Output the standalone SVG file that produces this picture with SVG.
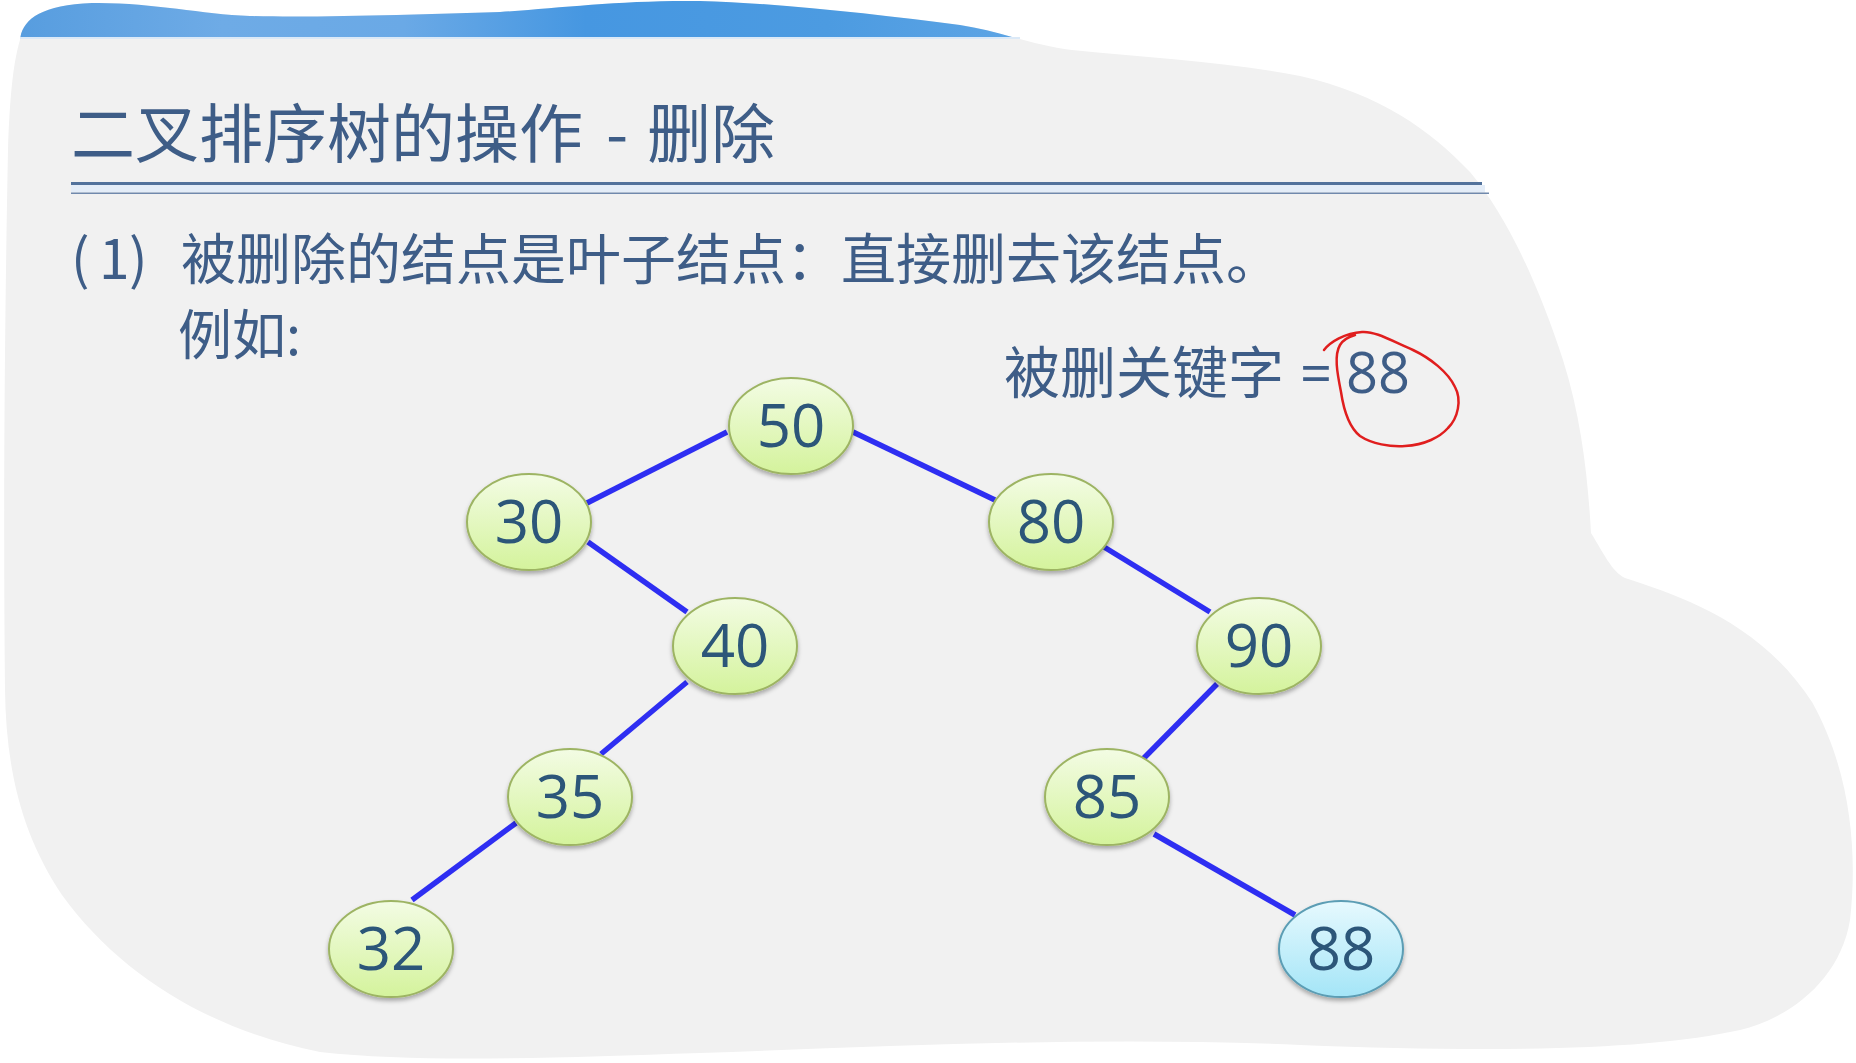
<svg xmlns="http://www.w3.org/2000/svg" width="1856" height="1063" viewBox="0 0 1856 1063">
<style>
.cjk{font-family:"Noto Sans CJK SC","Noto Sans",sans-serif;fill:#3e5d87}
.num{font-family:"Open Sans","Noto Sans",sans-serif;font-size:60px;fill:#2c5679;text-anchor:middle}
.edge{stroke:#2e2ef2;stroke-width:5.5;stroke-linecap:butt;fill:none}
.green{fill:url(#gGreen);stroke:#9db463;stroke-width:2;filter:url(#sh)}
.blue{fill:url(#gBlue);stroke:#5b9db4;stroke-width:2;filter:url(#sh)}
</style>
<defs>
<linearGradient id="gGreen" x1="0" y1="0" x2="0" y2="1">
<stop offset="0" stop-color="#f3fce4"/>
<stop offset="1" stop-color="#d4f39c"/>
</linearGradient>
<linearGradient id="gBlue" x1="0" y1="0" x2="0" y2="1">
<stop offset="0" stop-color="#e6f9fe"/>
<stop offset="1" stop-color="#a4e5f7"/>
</linearGradient>
<linearGradient id="gBand" gradientUnits="userSpaceOnUse" x1="20" y1="0" x2="1030" y2="0">
<stop offset="0" stop-color="#579ddf"/>
<stop offset="0.2" stop-color="#6eabe6"/>
<stop offset="0.38" stop-color="#6aa9e6"/>
<stop offset="0.56" stop-color="#4697e1"/>
<stop offset="0.8" stop-color="#4c9be1"/>
<stop offset="1" stop-color="#5ea5e5"/>
</linearGradient>
<filter id="sh" x="-20%" y="-20%" width="140%" height="150%">
<feDropShadow dx="0" dy="3" stdDeviation="2" flood-color="#000" flood-opacity="0.3"/>
</filter>
<path id="blobPath" d="M 20 40 C 22 20, 40 5, 92 3 C 150 2, 200 14, 250 16 C 320 18, 420 14, 500 12 C 560 8, 620 0, 700 1 C 780 3, 880 15, 960 25 C 1000 31, 1030 45, 1072 50 C 1150 58, 1230 62, 1300 76 C 1380 94, 1430 130, 1470 172 C 1510 220, 1540 290, 1563 360 C 1582 420, 1588 480, 1591 533 C 1603 552, 1612 572, 1625 578 C 1680 596, 1760 622, 1812 702 C 1850 770, 1858 850, 1850 920 C 1840 980, 1790 1018, 1740 1030 C 1650 1050, 1500 1053, 1300 1045 C 1100 1036, 900 1046, 700 1053 C 550 1058, 420 1063, 320 1052 C 210 1030, 120 975, 62 895 C 22 835, 6 770, 5 690 C 3 500, 5 300, 8 150 C 10 90, 14 60, 20 40 Z"/>
<clipPath id="bandClip"><rect x="0" y="0" width="1856" height="37"/></clipPath>
</defs>
<rect width="1856" height="1063" fill="#ffffff"/>
<g id="background">
<use href="#blobPath" fill="#f1f1f1"/>
<use href="#blobPath" fill="url(#gBand)" clip-path="url(#bandClip)"/>
<rect x="20" y="37" width="1000" height="2" fill="#dbe9f7"/>
</g>
<g id="header">
<text class="cjk" x="71" y="157" font-size="64"><tspan x="71">二叉排序树的操作</tspan><tspan x="606">-</tspan><tspan x="647">删除</tspan></text>
<rect x="71" y="182" width="1411" height="3" fill="#52729c"/>
<rect x="71" y="185" width="1414" height="7" fill="#e4edf8"/>
<rect x="71" y="192.5" width="1418" height="1.5" fill="#7089ad"/>
</g>
<g id="body-text">
<text class="cjk" x="71" y="279" font-size="55"><tspan x="71">(</tspan><tspan x="99">1</tspan><tspan x="129">)</tspan><tspan x="181">被删除的结点是叶子结点：直接删去该结点。</tspan></text>
<text class="cjk" x="178" y="355" font-size="54">例如:</text>
<text class="cjk" x="1004" y="393" font-size="56"><tspan x="1004">被删关键字</tspan><tspan x="1300" font-family="Open Sans, sans-serif">=</tspan><tspan x="1346" font-family="Open Sans, sans-serif">88</tspan></text>
</g>
<g id="connectors">
<line class="edge" x1="727" y1="432" x2="587" y2="503"/>
<line class="edge" x1="588" y1="542" x2="687" y2="612"/>
<line class="edge" x1="853" y1="432" x2="995" y2="500"/>
<line class="edge" x1="1104" y1="547" x2="1210" y2="612"/>
<line class="edge" x1="1217" y1="684" x2="1142" y2="760"/>
<line class="edge" x1="1154" y1="834" x2="1295" y2="915"/>
<line class="edge" x1="687" y1="682" x2="601" y2="754"/>
<line class="edge" x1="516" y1="823" x2="412" y2="900"/>
</g>
<g id="node-50"><ellipse class="green" cx="791" cy="426" rx="62" ry="48"/><text class="num" x="791" y="447">50</text></g>
<g id="node-30"><ellipse class="green" cx="529" cy="522" rx="62" ry="48"/><text class="num" x="529" y="543">30</text></g>
<g id="node-80"><ellipse class="green" cx="1051" cy="522" rx="62" ry="48"/><text class="num" x="1051" y="543">80</text></g>
<g id="node-40"><ellipse class="green" cx="735" cy="646" rx="62" ry="48"/><text class="num" x="735" y="667">40</text></g>
<g id="node-90"><ellipse class="green" cx="1259" cy="646" rx="62" ry="48"/><text class="num" x="1259" y="667">90</text></g>
<g id="node-35"><ellipse class="green" cx="570" cy="797" rx="62" ry="48"/><text class="num" x="570" y="818">35</text></g>
<g id="node-85"><ellipse class="green" cx="1107" cy="797" rx="62" ry="48"/><text class="num" x="1107" y="818">85</text></g>
<g id="node-32"><ellipse class="green" cx="391" cy="949" rx="62" ry="48"/><text class="num" x="391" y="970">32</text></g>
<g id="node-88"><ellipse class="blue" cx="1341" cy="949" rx="62" ry="48"/><text class="num" x="1341" y="970">88</text></g>
<g id="annotation">
<path d="M 1324 350 C 1330 342, 1345 333, 1362 332 C 1375 331, 1390 340, 1413 350 C 1430 358, 1448 372, 1455 387 C 1462 400, 1458 418, 1448 428 C 1440 437, 1425 445, 1405 446 C 1390 447, 1372 444, 1360 436 C 1350 428, 1344 412, 1341 392 C 1337 372, 1334 355, 1340 345 C 1343 340, 1348 337, 1355 335" fill="none" stroke="#e01e1e" stroke-width="2.5" stroke-linecap="round" stroke-linejoin="round"/>
</g>
</svg>
